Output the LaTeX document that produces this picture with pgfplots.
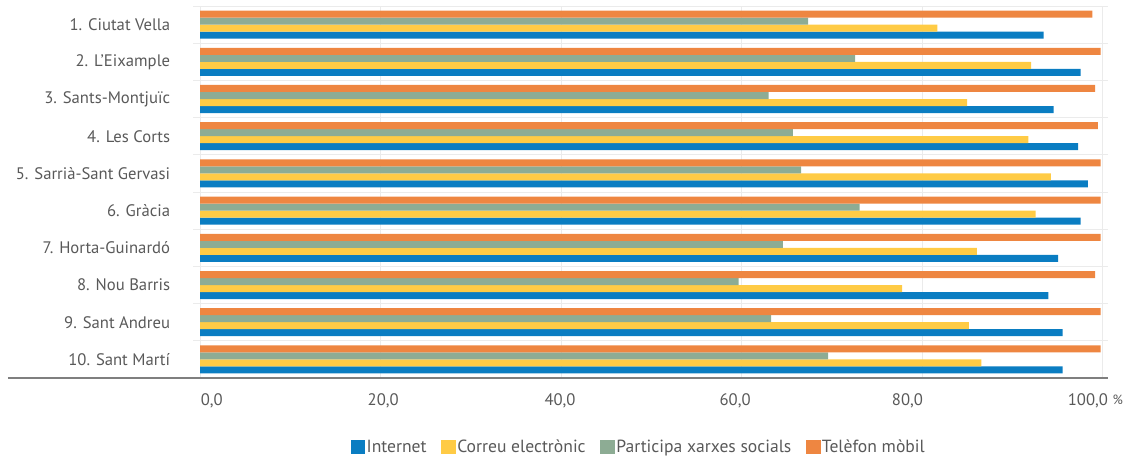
\documentclass[border=0pt]{standalone}
\usepackage{pgfplots}
\pgfplotsset{compat=1.18}
\usepackage{fontspec}
\setmainfont{PT Sans}
\definecolor{cInternet}{HTML}{0A7DC2}
\definecolor{cCorreu}{HTML}{FFCB45}
\definecolor{cXarxes}{HTML}{8DAC94}
\definecolor{cMobil}{HTML}{EE8641}
\definecolor{txt}{HTML}{595959}
\definecolor{gridc}{HTML}{EBEBEB}
\definecolor{axisc}{HTML}{7F7F7F}
\begin{document}
\begin{tikzpicture}
\path[use as bounding box] (0,0) rectangle (843pt,-342pt);
\begin{axis}[
  at={(144.6pt,-283.5pt)}, anchor=south west,
  scale only axis,
  width=686.25pt, height=279pt,
  xmin=-0.8, xmax=100.6,
  ymin=0.5, ymax=10.5,
  xbar, bar width=5.25pt,
  axis line style={draw=none},
  clip=false,
  font=\fontsize{12.5}{14}\selectfont,
  xtick={0,20,40,60,80,100},
  xticklabels={},
  extra x ticks={1.3,20.3,39.9,59.3,78.4,98.4},
  extra x tick labels={{0,0},{20,0},{40,0},{60,0},{80,0},{100,0}},
  extra x tick style={grid=none, xticklabel style={text=txt, yshift=-8pt}},
  ytick={1,...,10},
  yticklabels={10. Sant Martí, 9. Sant Andreu, 8. Nou Barris, 7. Horta-Guinardó, 6. Gràcia, 5. Sarrià-Sant Gervasi, 4. Les Corts, 3. Sants-Montjuïc, 2. L'Eixample, 1. Ciutat Vella},
  yticklabel style={text=txt, xshift=-13.5pt},
  major tick length=0pt, minor tick length=0pt,
  minor ytick={0.5,1.5,...,10.5},
  xmajorgrids, yminorgrids,
  major grid style={gridc, line width=0.6pt},
  minor grid style={gridc, line width=0.6pt},
  legend columns=4,
  legend style={at={(0.4877,-0.1855)}, anchor=center, draw=none, fill=none,
    font=\fontsize{13.2}{15}\selectfont, text=txt,
    /tikz/every odd column/.append style={column sep=-1pt},
    /tikz/every even column/.append style={column sep=9pt}},
  legend cell align=left,
  legend image code/.code={\fill[#1,draw=none] (0pt,-5.6pt) rectangle (11pt,5.6pt);},
]
\addplot[fill=cInternet, draw=none, bar shift=-7.875pt] coordinates {
(93.5,10) (97.6,9) (94.6,8) (97.3,7) (98.4,6) (97.6,5) (95.1,4) (94.0,3) (95.6,2) (95.6,1)};
\addlegendentry{Internet}
\addplot[fill=cCorreu, draw=none, bar shift=-2.625pt] coordinates {
(81.7,10) (92.1,9) (85.0,8) (91.8,7) (94.3,6) (92.6,5) (86.1,4) (77.8,3) (85.2,2) (86.6,1)};
\addlegendentry{Correu electrònic}
\addplot[fill=cXarxes, draw=none, bar shift=2.625pt] coordinates {
(67.4,10) (72.6,9) (63.0,8) (65.7,7) (66.6,6) (73.1,5) (64.6,4) (59.7,3) (63.3,2) (69.6,1)};
\addlegendentry{Participa xarxes socials}
\addplot[fill=cMobil, draw=none, bar shift=7.875pt] coordinates {
(98.9,10) (99.8,9) (99.2,8) (99.5,7) (99.8,6) (99.8,5) (99.8,4) (99.2,3) (99.8,2) (99.8,1)};
\addlegendentry{Telèfon mòbil}
\draw[axisc, line width=1.5pt] (axis description cs:-0.202,0) -- (axis description cs:1.0002,0);
\node[text=txt, anchor=center, font=\fontsize{10}{12}\selectfont] at (axis description cs:1.011,-0.06) {\%};
\end{axis}
\end{tikzpicture}
\end{document}
